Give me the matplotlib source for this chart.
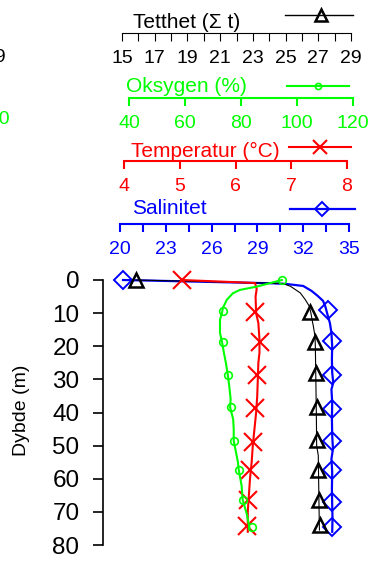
import numpy as np
import matplotlib.pyplot as plt
from matplotlib.lines import Line2D

plt.rcParams['font.family'] = ['Liberation Sans', 'DejaVu Sans']

W, H = 374, 561

# --- CTD profile (continuous lines) ---
sal_depth = [0, 1.0, 1.2, 1.8, 3.3, 4.8, 6.3, 8.0, 10.6, 13, 16, 20, 24, 28, 31,
             33, 37, 42, 47, 51, 54, 58, 63, 68, 72, 76]
sal = [20.2, 30.0, 30.9, 32.0, 32.55, 32.95, 33.3, 33.45, 33.6, 33.75, 33.85, 33.9,
       33.88, 33.9, 33.97, 33.85, 33.9, 33.88, 33.9, 33.95, 33.85, 33.9, 33.88,
       33.9, 33.92, 33.9]

dens_depth = [0, 1.05, 1.9, 3.9, 5.9, 7.9, 10, 12, 14, 17, 20, 30, 40, 50, 51.5,
              53, 60, 70, 75.5]
dens = [15.86, 24.85, 25.3, 25.9, 26.2, 26.45, 26.55, 26.62, 26.7, 26.8, 26.82,
        26.85, 26.88, 26.9, 26.95, 27.0, 27.02, 27.05, 27.07]

temp_depth = [0, 0.9, 2.7, 5, 10, 13, 18, 22, 25, 30, 35, 40, 45, 50, 55, 60, 65,
              70, 76]
temp = [5.04, 6.35, 6.38, 6.36, 6.37, 6.41, 6.43, 6.43, 6.41, 6.40, 6.39, 6.37,
        6.34, 6.31, 6.29, 6.26, 6.24, 6.22, 6.22]

oxy_depth = [0, 2.0, 3.0, 4.0, 6.0, 8.5, 10, 12, 16, 18.6, 22, 25, 28.7, 32, 36,
             38.4, 42, 45, 48.5, 52, 55, 57.4, 62, 66.4, 70.4, 75.5]
oxy = [94.6, 85.6, 79.6, 77.1, 74.9, 73.5, 73.2, 72.5, 72.5, 73.2, 73.9, 74.6,
       75.3, 75.8, 76.3, 76.1, 77.2, 77.4, 77.4, 78.2, 78.9, 79.2, 80.2, 80.6,
       82.0, 83.2]

# --- bin averages (markers) ---
sal_pt_depth = [0, 9.1, 18.4, 28.8, 38.9, 48.7, 57.4, 66.9, 74.5]
sal_pt = [20.2, 33.65, 33.87, 33.87, 33.87, 33.87, 33.87, 33.87, 33.87]

dens_pt_depth = [0, 9.6, 18.6, 28.0, 38.3, 48.3, 57.4, 66.4, 74.0]
dens_pt = [15.86, 26.5, 26.8, 26.85, 26.9, 26.9, 26.97, 27.07, 27.1]

temp_pt_depth = [0, 9.6, 18.6, 28.7, 38.7, 48.8, 57.4, 66.4, 74.3]
temp_pt = [5.04, 6.35, 6.44, 6.39, 6.35, 6.31, 6.26, 6.22, 6.2]

oxy_pt_depth = [0, 9.4, 18.6, 28.7, 38.4, 48.5, 57.4, 66.4, 74.5]
oxy_pt = [94.6, 73.7, 73.4, 75.5, 76.4, 77.6, 79.4, 80.8, 83.8]

depth_ticks = np.arange(0, 81, 10)


def fx(x):
    return x / W


def fy(y):
    return 1 - y / H


fig = plt.figure(figsize=(W / 100, H / 100), dpi=100)

PLOT_TOP, PLOT_BOT = 280, 545

# one entry per variable: scale range, pixel extent of its axis, styling
scales = [
    dict(name='Salinitet', color='#0000ff', lo=20, hi=35, x0=120, x1=349, yline=224,
         major=[20, 23, 26, 29, 32, 35], minor=np.arange(21.5, 35, 3), tlw=1.5,
         title_x=132, title_y=209, leg=(290, 355, 209), leg_m=322,
         depth=sal_depth, vals=sal, pdepth=sal_pt_depth, pvals=sal_pt,
         marker='D', ms=9, mew=1.4, lw=1.6),
    dict(name='Tetthet (\u03a3 t)', color='black', lo=15, hi=29, x0=122, x1=351, yline=33,
         major=np.arange(15, 30, 2), minor=np.arange(16, 29, 2), tlw=0.8,
         title_x=133, title_y=22, leg=(285, 353, 15), leg_m=321,
         depth=dens_depth, vals=dens, pdepth=dens_pt_depth, pvals=dens_pt,
         marker='^', ms=10, mew=1.8, lw=0.8),
    dict(name='Temperatur (\u00b0C)', color='#ff0000', lo=4, hi=8, x0=124, x1=347, yline=161,
         major=np.arange(4, 9, 1), minor=[], tlw=1.5,
         title_x=131, title_y=151, leg=(289, 351, 147), leg_m=320,
         depth=temp_depth, vals=temp, pdepth=temp_pt_depth, pvals=temp_pt,
         marker='x', ms=12.5, mew=1.5, lw=1.5),
    dict(name='Oksygen (%)', color='#00ff00', lo=40, hi=120, x0=129, x1=353, yline=98,
         major=np.arange(40, 121, 20), minor=[], tlw=1.5,
         title_x=126, title_y=87, leg=(287, 349, 86), leg_m=318,
         depth=oxy_depth, vals=oxy, pdepth=oxy_pt_depth, pvals=oxy_pt,
         marker='o', ms=5.5, mew=1.2, lw=1.5),
]

# depth axis
ax = fig.add_axes([fx(103), fy(PLOT_BOT), fx(250), (PLOT_BOT - PLOT_TOP) / H])
ax.set_ylim(80, 0)
ax.set_xlim(0, 1)
for s in ['top', 'right', 'bottom']:
    ax.spines[s].set_visible(False)
ax.spines['left'].set_linewidth(1.2)
ax.set_xticks([])
ax.set_yticks(depth_ticks)
ax.tick_params(axis='y', length=7, width=1.2, labelsize=17.5, pad=10)
ax.patch.set_visible(False)
fig.text(fx(22), fy(410), 'Dybde (m)', rotation=90, ha='center', va='center',
         fontsize=14)

for sc in scales:
    # profile drawn in its own coordinates, horizontally aligned with its scale
    dax = fig.add_axes([fx(sc['x0']), fy(PLOT_BOT), (sc['x1'] - sc['x0']) / W,
                        (PLOT_BOT - PLOT_TOP) / H])
    dax.set_xlim(sc['lo'], sc['hi'])
    dax.set_ylim(80, 0)
    dax.axis('off')
    dax.plot(sc['vals'], sc['depth'], color=sc['color'], lw=sc['lw'], clip_on=False)
    dax.plot(sc['pvals'], sc['pdepth'], ls='none', marker=sc['marker'],
             ms=sc['ms'], mew=sc['mew'], mec=sc['color'], mfc='none',
             color=sc['color'], clip_on=False)

    # scale axis above the plot
    sax = fig.add_axes([fx(sc['x0']), fy(sc['yline']), (sc['x1'] - sc['x0']) / W, 0.001])
    sax.set_xlim(sc['lo'], sc['hi'])
    sax.patch.set_visible(False)
    for s in ['top', 'right', 'left']:
        sax.spines[s].set_visible(False)
    sax.spines['bottom'].set_color(sc['color'])
    sax.spines['bottom'].set_linewidth(sc['tlw'])
    sax.set_yticks([])
    sax.set_xticks(sc['major'])
    sax.set_xticks(sc['minor'], minor=True)
    sax.set_xticklabels(['%g' % v for v in sc['major']])
    sax.tick_params(axis='x', which='both', length=6, width=sc['tlw'],
                    color=sc['color'], labelcolor=sc['color'], labelsize=14, pad=6.5)

    fig.text(fx(sc['title_x']), fy(sc['title_y']), sc['name'], color=sc['color'],
             ha='left', va='center', fontsize=15)

    lx0, lx1, ly = sc['leg']
    fig.add_artist(Line2D([fx(lx0), fx(lx1)], [fy(ly), fy(ly)], color=sc['color'],
                          lw=max(sc['lw'], 1.0), transform=fig.transFigure))
    fig.add_artist(Line2D([fx(sc['leg_m'])], [fy(ly)], ls='none', marker=sc['marker'],
                          ms=sc['ms'] * 0.8, mew=sc['mew'], mec=sc['color'],
                          mfc='none', transform=fig.transFigure))

# edge of the neighbouring panel's scale labels
fig.text(fx(6), fy(57), '29', ha='right', va='center', fontsize=14, color='black')
fig.text(fx(10), fy(120), '120', ha='right', va='center', fontsize=14, color='#00ff00')

fig.savefig('out.png', dpi=100)
